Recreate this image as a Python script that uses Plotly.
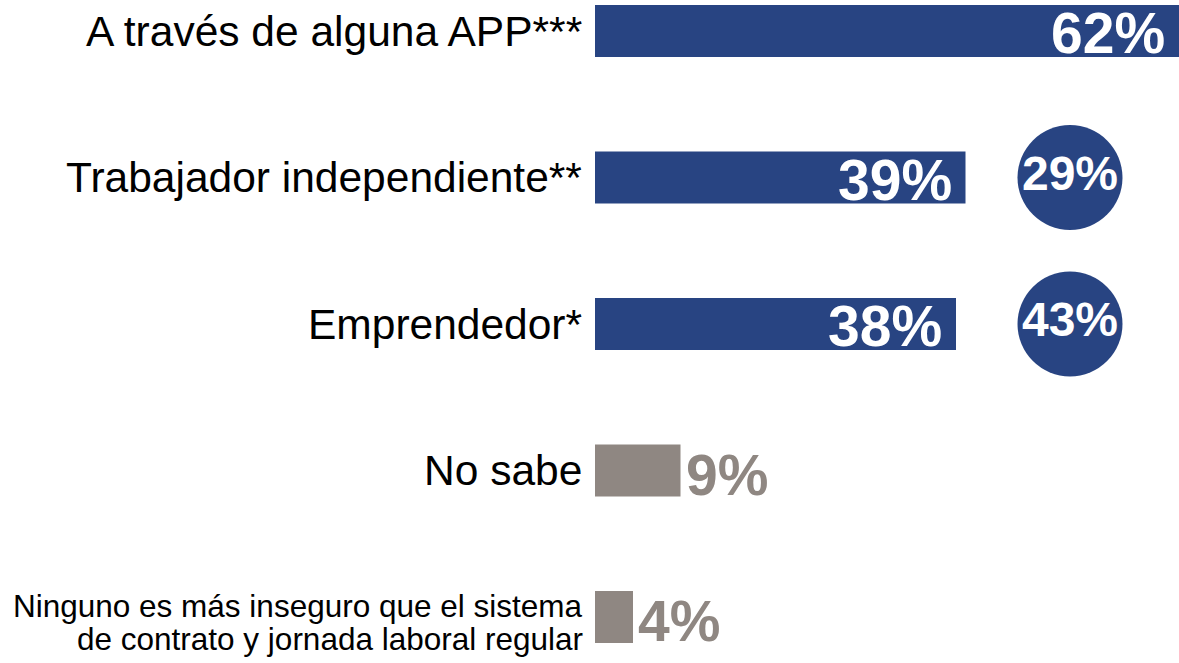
import plotly.graph_objects as go

categories = [
    "A través de alguna APP***",
    "Trabajador independiente**",
    "Emprendedor*",
    "No sabe",
    "Ninguno es más inseguro que el sistema<br>de contrato y jornada laboral regular",
]
bar_values = [62, 39, 38, 9, 4]
bar_kind = ["blue", "blue", "blue", "gray", "gray"]
circle_categories = ["Trabajador independiente**", "Emprendedor*"]
circle_values = [29, 43]

BLUE = "#284482"
GRAY = "#8f8782"
FONT = "Liberation Sans, Arial, sans-serif"
CIRCLE_X = 50
XMAX = 584 / 9.5

ypos = list(range(len(categories)))
colors = [BLUE if k == "blue" else GRAY for k in bar_kind]

fig = go.Figure()
fig.add_trace(go.Bar(
    x=bar_values, y=ypos, orientation="h",
    marker=dict(color=colors, line=dict(width=0)),
    width=0.355, hoverinfo="skip", cliponaxis=True,
))

cy = [categories.index(c) for c in circle_categories]
fig.add_trace(go.Scatter(
    x=[CIRCLE_X] * len(circle_values), y=cy, mode="markers+text",
    marker=dict(size=105, color=BLUE, line=dict(width=0)),
    text=[f"{v}%" for v in circle_values], textposition="middle center",
    textfont=dict(family=FONT, size=48, color="white", weight="bold"),
    cliponaxis=False, hoverinfo="skip",
))

annotations = []
# category labels
for i, cat in enumerate(categories):
    lines = cat.split("<br>")
    if len(lines) == 1:
        annotations.append(dict(
            x=0, y=i, xref="x", yref="y", text=cat, showarrow=False,
            xanchor="right", yanchor="middle", xshift=-11,
            font=dict(family=FONT, size=42.5, color="black"),
        ))
    else:
        shifts = [11, -22]
        for line, sh in zip(lines, shifts):
            annotations.append(dict(
                x=0, y=i, xref="x", yref="y", text=line, showarrow=False,
                xanchor="right", yanchor="middle", xshift=-11, yshift=sh,
                borderpad=0,
                font=dict(family=FONT, size=31.5, color="black"),
            ))
# value labels
for i, (v, k) in enumerate(zip(bar_values, bar_kind)):
    if k == "blue":
        xa = min(v, XMAX)
        annotations.append(dict(
            x=xa, y=i, xref="x", yref="y", text=f"{v}%", showarrow=False,
            xanchor="right", yanchor="middle", xshift=-12, yshift=-2,
            font=dict(family=FONT, size=57, color="white", weight="bold"),
        ))
    else:
        annotations.append(dict(
            x=v, y=i, xref="x", yref="y", text=f"{v}%", showarrow=False,
            xanchor="left", yanchor="middle", xshift=3, yshift=-4,
            font=dict(family=FONT, size=57, color=GRAY, weight="bold"),
        ))

fig.update_layout(
    width=1179, height=663,
    margin=dict(l=595, r=0, t=0, b=0),
    paper_bgcolor="white", plot_bgcolor="white",
    showlegend=False,
    xaxis=dict(range=[0, XMAX], visible=False, fixedrange=True),
    yaxis=dict(range=[4.314, -0.2116], visible=False, fixedrange=True),
    annotations=annotations,
)

fig.write_html(
    "out.html",
    config={"displayModeBar": False, "staticPlot": True},
    post_script="document.body.style.margin='0';document.body.style.overflow='hidden';",
)
